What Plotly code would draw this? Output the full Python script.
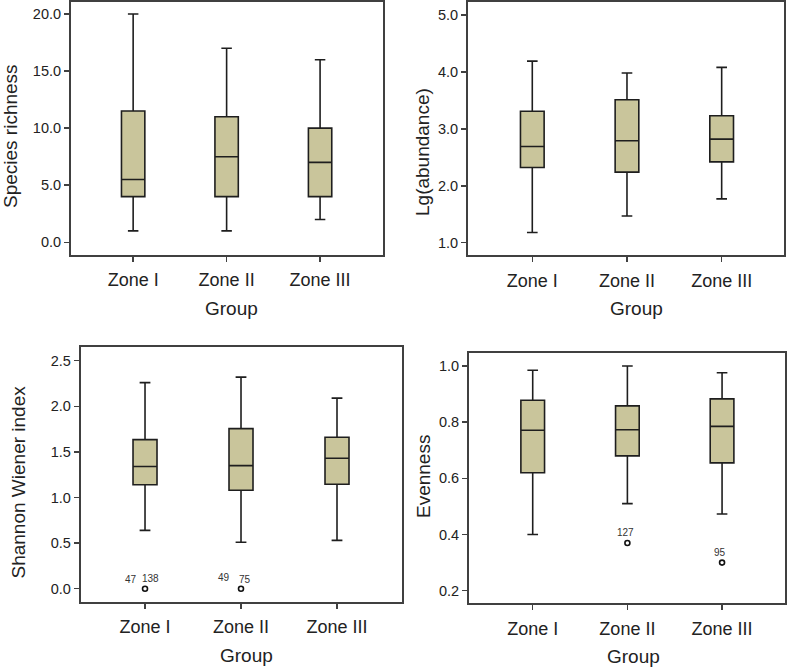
import plotly.graph_objects as go

zones = ["Zone I", "Zone II", "Zone III"]

# Species richness
rich_low = [1.0, 1.0, 2.0]
rich_q1 = [4.0, 4.0, 4.0]
rich_med = [5.5, 7.5, 7.0]
rich_q3 = [11.5, 11.0, 10.0]
rich_high = [20.0, 17.0, 16.0]

# Lg(abundance)
abun_low = [1.18, 1.47, 1.77]
abun_q1 = [2.32, 2.24, 2.42]
abun_med = [2.69, 2.79, 2.82]
abun_q3 = [3.31, 3.51, 3.23]
abun_high = [4.19, 3.98, 4.08]

# Shannon Wiener index
shan_low = [0.64, 0.51, 0.53]
shan_q1 = [1.14, 1.08, 1.145]
shan_med = [1.34, 1.35, 1.43]
shan_q3 = [1.635, 1.755, 1.66]
shan_high = [2.26, 2.32, 2.09]
shan_out_x = ["Zone I", "Zone II"]
shan_out_y = [0.0, 0.0]
shan_lab_x = ["Zone I", "Zone I", "Zone II", "Zone II"]
shan_lab_y = [0.0, 0.0, 0.0, 0.0]
shan_lab_txt = ["47", "138", "49", "75"]

# Evenness
even_low = [0.40, 0.51, 0.473]
even_q1 = [0.62, 0.68, 0.655]
even_med = [0.771, 0.773, 0.785]
even_q3 = [0.878, 0.858, 0.883]
even_high = [0.985, 1.0, 0.976]
even_out_x = ["Zone II", "Zone III"]
even_out_y = [0.37, 0.30]
even_lab_txt = ["127", "95"]

FONT = "Arial, 'Liberation Sans', sans-serif"
FILL = "#c9c59b"
EDGE = "#1e1e1e"
FRAME = "#404040"

fig = go.Figure()

def add_box(axn, low, q1, med, q3, high):
    fig.add_trace(go.Box(
        x=zones, lowerfence=low, q1=q1, median=med, q3=q3, upperfence=high,
        width=0.25, whiskerwidth=0.45, fillcolor=FILL,
        line=dict(color=EDGE, width=1.6), boxpoints=False,
        showlegend=False, hoverinfo="skip",
        xaxis="x" + axn, yaxis="y" + axn))

add_box("", rich_low, rich_q1, rich_med, rich_q3, rich_high)
add_box("2", abun_low, abun_q1, abun_med, abun_q3, abun_high)
add_box("3", shan_low, shan_q1, shan_med, shan_q3, shan_high)
add_box("4", even_low, even_q1, even_med, even_q3, even_high)

fig.add_trace(go.Scatter(x=shan_out_x, y=shan_out_y, mode="markers",
                         marker=dict(symbol="circle-open", size=5, color="#111", line=dict(width=1.6)),
                         showlegend=False, hoverinfo="skip", xaxis="x3", yaxis="y3"))
fig.add_trace(go.Scatter(x=even_out_x, y=even_out_y, mode="markers",
                         marker=dict(symbol="circle-open", size=5, color="#111", line=dict(width=1.6)),
                         showlegend=False, hoverinfo="skip", xaxis="x4", yaxis="y4"))

W, H = 787, 668
def dom_x(a, b):
    return [a / W, b / W]
def dom_y(top, bot):
    return [1 - bot / H, 1 - top / H]

frames = {
    "": dict(x=(71, 382.7), y=(1.5, 254.5), xr=[-0.665, 2.67], yr=[-1.07, 21.1], dt=5),
    "2": dict(x=(468, 783.5), y=(1.5, 255), xr=[-0.679, 2.653], yr=[0.784, 5.237], dt=1),
    "3": dict(x=(80.7, 401.7), y=(347.3, 601.7), xr=[-0.67, 2.674], yr=[-0.1425, 2.647], dt=0.5),
    "4": dict(x=(469, 785.3), y=(353.3, 603), xr=[-0.673, 2.668], yr=[0.1562, 1.0452], dt=0.2),
}

layout = {}
for k, f in frames.items():
    layout["xaxis" + k] = dict(
        domain=dom_x(*f["x"]), range=f["xr"], type="category",
        categoryorder="array", categoryarray=zones,
        anchor="y" + k, showline=True, mirror=True, linecolor=FRAME, linewidth=2,
        ticks="outside", ticklen=5, tickwidth=1.5, tickcolor=FRAME,
        tickfont=dict(family=FONT, size=18, color="#222"), showgrid=False, zeroline=False,
        ticklabelstandoff=3, fixedrange=True)
    layout["yaxis" + k] = dict(
        domain=dom_y(*f["y"]), range=f["yr"], anchor="x" + k,
        dtick=f["dt"], tickformat=".1f",
        showline=True, mirror=True, linecolor=FRAME, linewidth=2,
        ticks="outside", ticklen=5, tickwidth=1.5, tickcolor=FRAME,
        tickfont=dict(family=FONT, size=14.5, color="#222"), showgrid=False, zeroline=False,
        fixedrange=True)

fig.update_layout(**layout)

ann = []
def title(text, x, y, rot=0):
    ann.append(dict(text=text, x=x / W, y=1 - y / H, xref="paper", yref="paper",
                    showarrow=False, textangle=rot, xanchor="center", yanchor="middle",
                    font=dict(family=FONT, size=19, color="#222")))

title("Species richness", 10, 136, -90)
title("Lg(abundance)", 422, 152, -90)
title("Shannon Wiener index", 17.5, 482, -90)
title("Evenness", 423, 477, -90)
title("Group", 231, 309)
title("Group", 636, 309)
title("Group", 246, 655)
title("Group", 633, 656)

shan_shifts = [(-14, 9), (5, 10), (-17, 11.5), (4, 9.5)]
for xv, yv, t, (dx, dy) in zip(shan_lab_x, shan_lab_y, shan_lab_txt, shan_shifts):
    ann.append(dict(text=t, x=xv, y=yv, xref="x3", yref="y3", showarrow=False,
                    xshift=dx, yshift=dy, font=dict(family=FONT, size=10, color="#333")))
even_shifts = [(-2, 10), (-2.5, 10)]
for xv, yv, t, (dx, dy) in zip(even_out_x, even_out_y, even_lab_txt, even_shifts):
    ann.append(dict(text=t, x=xv, y=yv, xref="x4", yref="y4", showarrow=False,
                    xshift=dx, yshift=dy, font=dict(family=FONT, size=10, color="#333")))

fig.update_layout(
    annotations=ann,
    width=W, height=H,
    margin=dict(l=0, r=0, t=0, b=0),
    paper_bgcolor="white", plot_bgcolor="white",
    showlegend=False,
)

fig.write_html("out.html", config={"displayModeBar": False, "staticPlot": True})
with open("out.html", "r", encoding="utf-8") as fh:
    html = fh.read()
html = html.replace("<head>", "<head><style>html,body{margin:0;padding:0;overflow:hidden;}</style>", 1)
with open("out.html", "w", encoding="utf-8") as fh:
    fh.write(html)
